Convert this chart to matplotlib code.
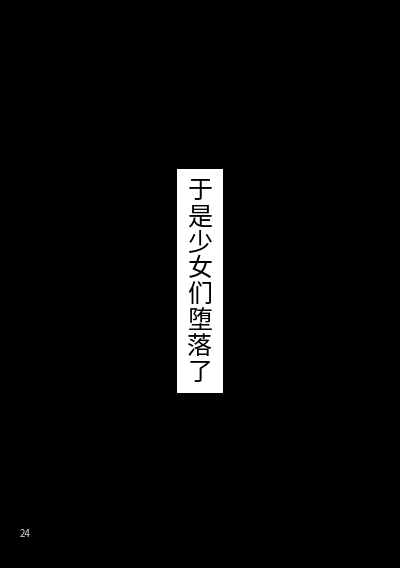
import matplotlib
matplotlib.use("Agg")
import matplotlib.pyplot as plt
from matplotlib.patches import Rectangle

plt.rcParams['font.family'] = ['Noto Sans CJK SC', 'DejaVu Sans']

# texto de la pagina
titulo = list("于是少女们堕落了")
pagina = "24"

fig = plt.figure(figsize=(4, 5.68), dpi=100)
ax = fig.add_axes([0, 0, 1, 1])
ax.set_facecolor("black")
fig.patch.set_facecolor("black")
ax.set_xlim(0, 400)
ax.set_ylim(568, 0)
ax.axis("off")

# recuadro blanco
ax.add_patch(Rectangle((177, 169), 46, 224, facecolor="white", edgecolor="none"))

# caracteres en vertical
y0, paso = 191, 26
for i, c in enumerate(titulo):
    ax.text(200, y0 + i * paso, c, fontsize=18, color="black",
            ha="center", va="center", fontweight="medium")

ax.text(25, 534, pagina, fontsize=7, color="#d8d8d8", ha="center", va="center")

fig.savefig("out.png", dpi=100, facecolor="black")
